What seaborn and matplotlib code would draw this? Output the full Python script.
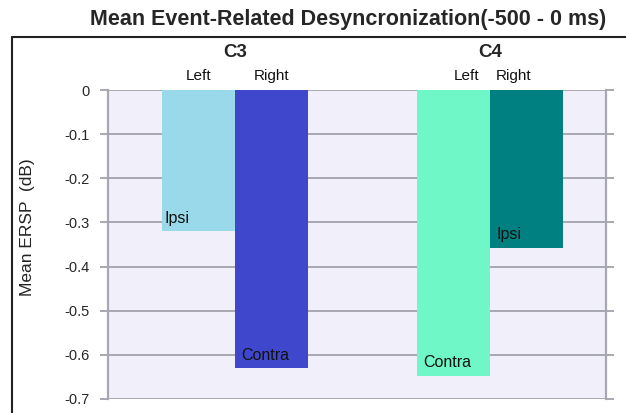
import matplotlib
matplotlib.use("Agg")
import matplotlib.pyplot as plt
from matplotlib.lines import Line2D
import numpy as np
import pandas as pd
import seaborn as sns

# values
electrodes = ["C3", "C3", "C4", "C4"]
sides = ["Left", "Right", "Left", "Right"]
ersp = [-0.32, -0.63, -0.647, -0.357]
bar_notes = ["Ipsi", "Contra", "Contra", "Ipsi"]
bar_colors = ["#99D9EA", "#3F48CC", "#6FF7C8", "#008080"]

sns.set_style("white")
plt.rcParams["font.family"] = ["Liberation Sans", "DejaVu Sans"]

W, H = 626, 413
fig = plt.figure(figsize=(W / 100, H / 100), dpi=100)
ax = fig.add_axes([108 / W, 1 - 399 / H, (606 - 108) / W, (399 - 90) / H])

df = pd.DataFrame({"electrode": electrodes, "side": sides, "ersp": ersp})
sns.barplot(data=df, x="electrode", y="ersp", hue="side", dodge=True,
            width=0.573, gap=0, saturation=1, legend=False, ax=ax,
            errorbar=None)

# recolor each bar: containers are per hue level, bars per electrode
color_map = {(e, s): c for e, s, c in zip(electrodes, sides, bar_colors)}
note_map = {(e, s): n for e, s, n in zip(electrodes, sides, bar_notes)}
elec_order = ["C3", "C4"]
side_order = ["Left", "Right"]
grid_c = "#A8A8B0"
side_shift = {("C4", "Left"): 0.05, ("C4", "Right"): -0.05}
for side, cont in zip(side_order, ax.containers):
    for elec, bar in zip(elec_order, cont):
        key = (elec, side)
        bar.set_facecolor(color_map[key])
        bar.set_edgecolor("none")
        x0 = bar.get_x()
        w = bar.get_width()
        bottom = bar.get_height()
        dx = 2 if key == ("C3", "Left") else 4.5
        ax.annotate(note_map[key], (x0, bottom), xytext=(dx, 4),
                    textcoords="offset points", ha="left", va="bottom",
                    fontsize=11.5, color="#111111")
        ax.text(x0 + w / 2 + side_shift.get(key, 0), 1.045, side,
                transform=ax.get_xaxis_transform(), ha="center", va="center",
                fontsize=11, color="#111111")
for i, elec in enumerate(elec_order):
    ax.text(i, 1.12, elec, transform=ax.get_xaxis_transform(),
            ha="center", va="center", fontsize=13.5, fontweight="bold")

ax.set_xlim(-0.498, 1.455)
ax.set_ylim(-0.7, 0)
yt = np.round(np.arange(-0.7, 0.001, 0.1), 1)
ax.set_yticks(yt)
ax.set_yticklabels(["0" if v == 0 else f"{v:g}" for v in yt], fontsize=10.5)
ax.set_xticks([])
ax.set_xlabel("")
ax.set_facecolor("#F1F0FA")
ax.yaxis.grid(True, color=grid_c, linewidth=1.4)
ax.set_axisbelow(True)
ax.tick_params(axis="y", left=True, right=True, length=6, width=1.4,
               color=grid_c, pad=7)
for s in ["left", "right"]:
    ax.spines[s].set_color(grid_c)
    ax.spines[s].set_linewidth(1.6)
for s in ["top", "bottom"]:
    ax.spines[s].set_visible(False)

ax.set_ylabel("Mean ERSP  (dB)", fontsize=12.5, color="#222222")
ax.yaxis.set_label_coords(-0.147, 0.557)

fig.text(348 / W, 1 - 20 / H, "Mean Event-Related Desyncronization(-500 - 0 ms)",
         ha="center", va="center", fontsize=15.5, fontweight="bold")

# outer frame (left and top edges)
fig.add_artist(Line2D([12 / W, 12 / W], [0, 1 - 37 / H], transform=fig.transFigure,
                      color="#222222", linewidth=1.5))
fig.add_artist(Line2D([12 / W, 1], [1 - 37 / H, 1 - 37 / H], transform=fig.transFigure,
                      color="#222222", linewidth=1.5))

fig.savefig("out.png", dpi=100)
